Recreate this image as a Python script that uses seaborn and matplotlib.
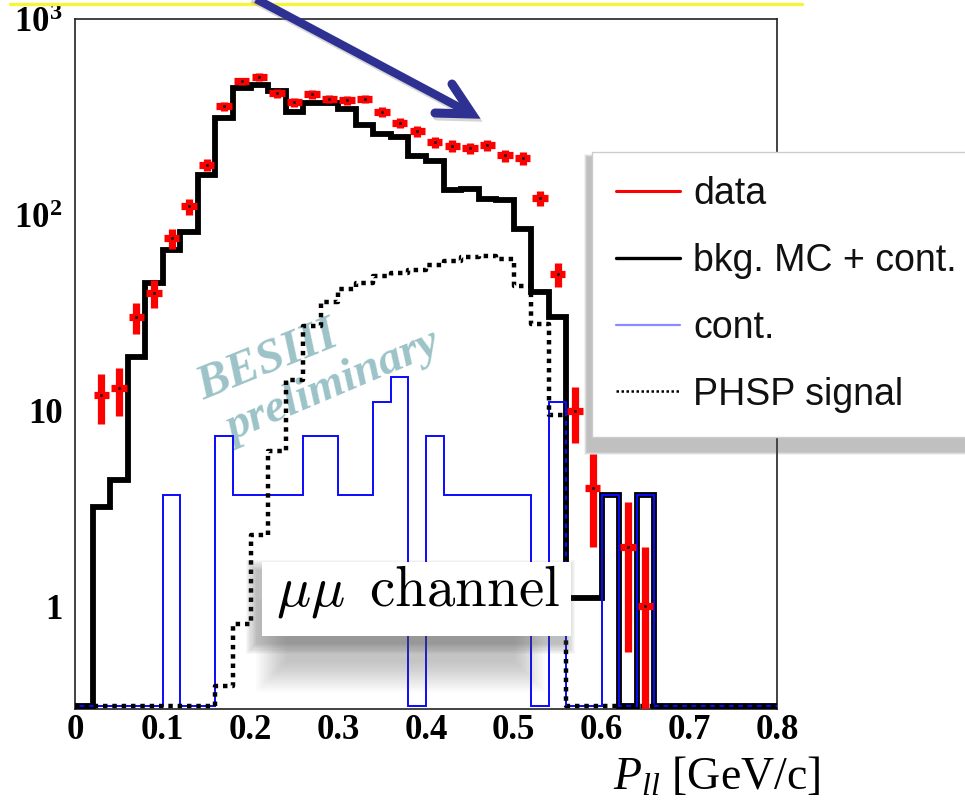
import numpy as np
import pandas as pd
import matplotlib
matplotlib.use("Agg")
import matplotlib.pyplot as plt
import seaborn as sns
from matplotlib.lines import Line2D
from matplotlib.patches import Rectangle
from matplotlib.ticker import MultipleLocator, LogLocator, NullFormatter

# ---------------- data ----------------
bin_edges = np.round(np.linspace(0.0, 0.8, 41), 3)

data_counts = [0, 12, 13, 30, 40, 76, 111, 181, 361, 483,
               508, 419, 378, 414, 393, 386, 393, 337, 296, 268,
               236, 226, 219, 227, 202, 195, 122, 50, 10, 4,
               0, 2, 1, 0, 0, 0, 0, 0, 0, 0]
bkg_mc_cont = [0, 3.2, 4.4, 18.7, 45, 66, 82, 160, 315, 445,
               462, 430, 336, 372, 372, 348, 288, 261, 250, 200,
               189, 134, 136, 121, 119, 85, 40.5, 30, 1.1, 1.1,
               3.7, 0, 3.7, 0, 0, 0, 0, 0, 0, 0]
cont = [0, 0, 0, 0, 0, 3.7, 0, 0, 7.4, 3.7,
        3.7, 3.7, 3.7, 7.4, 7.4, 3.7, 3.7, 11.1, 14.8, 0,
        7.4, 3.7, 3.7, 3.7, 3.7, 3.7, 0, 11.1, 0, 0,
        3.7, 0, 3.7, 0, 0, 0, 0, 0, 0, 0]
phsp_signal = [0, 0, 0, 0, 0, 0, 0, 0, 0.39, 0.81,
               2.3, 6.2, 14.4, 27, 36, 42, 45, 49, 50.6, 52.4,
               55.6, 58, 61.4, 62, 59.7, 43.4, 27.8, 9.5, 0, 0,
               0, 0, 0, 0, 0, 0, 0, 0, 0, 0]

legend_labels = ["data", "bkg. MC + cont.", "cont.", "PHSP signal"]
x_tick_values = [0.0, 0.1, 0.2, 0.3, 0.4, 0.5, 0.6, 0.7, 0.8]
x_tick_labels = ["0", "0.1", "0.2", "0.3", "0.4", "0.5", "0.6", "0.7", "0.8"]
y_tick_values = [1, 10, 100, 1000]
y_tick_labels = ["1", "10", r"$\mathbf{10^{2}}$", r"$\mathbf{10^{3}}$"]
x_label = r"$P_{ll}$ [GeV/c]"
channel_text = r"$\mu\mu\ \,\mathrm{channel}$"
watermark = ["BESIII", "preliminary"]

# ---------------- style ----------------
sns.set_style("white")
plt.rcParams["font.family"] = ["Liberation Sans", "DejaVu Sans"]
plt.rcParams["mathtext.fontset"] = "custom"
plt.rcParams["mathtext.rm"] = "Liberation Serif"
plt.rcParams["mathtext.it"] = "Liberation Serif:italic"
plt.rcParams["mathtext.bf"] = "Liberation Serif:bold"

W, H = 965, 805
fig = plt.figure(figsize=(W / 100, H / 100), dpi=100)
fig.patch.set_facecolor("white")


def fx(x):
    return x / W


def fy(y):
    return 1 - y / H


ax = fig.add_axes([fx(75), fy(708.5), (777 - 75) / W, (708.5 - 19.5) / H])
ax.set_facecolor("white")

YMIN, YMAX = 0.3, 1000
FLOOR = 0.31  # where empty bins are drawn (just above the frame, like ROOT)


def step_frame(vals):
    v = np.clip(np.asarray(vals, dtype=float), FLOOR, None)
    return pd.DataFrame({"x": bin_edges, "y": np.append(v, v[-1])})


sns.lineplot(data=step_frame(bkg_mc_cont), x="x", y="y", ax=ax,
             drawstyle="steps-post", color="black", linewidth=4.2,
             estimator=None, sort=False, legend=False, zorder=3,
             solid_joinstyle="miter")
sns.lineplot(data=step_frame(cont), x="x", y="y", ax=ax,
             drawstyle="steps-post", color="#0a0aff", linewidth=1.4,
             estimator=None, sort=False, legend=False, zorder=3.2,
             solid_joinstyle="miter")
sns.lineplot(data=step_frame(phsp_signal), x="x", y="y", ax=ax,
             drawstyle="steps-post", color="black", linewidth=3.2,
             linestyle=(0, (1, 1.1)), dash_capstyle="butt",
             estimator=None, sort=False, legend=False, zorder=3.4)

# data points with sqrt(N) errors
d = np.asarray(data_counts, dtype=float)
centers = (bin_edges[:-1] + bin_edges[1:]) / 2
m = d > 0
err = np.sqrt(d[m])
lo = np.minimum(err, d[m] - 0.2)
ax.errorbar(centers[m], d[m], yerr=[lo, err], xerr=0.0088, fmt="s",
            ms=1.1, mfc="#222222", mec="#222222", ecolor="#ff0000",
            elinewidth=5.2, capsize=0, zorder=6)

# ---------------- axes ----------------
ax.set_yscale("log")
ax.set_xlim(0, 0.8)
ax.set_ylim(YMIN, YMAX)
ax.set_xticks(x_tick_values)
ax.set_xticklabels(x_tick_labels, fontfamily="Liberation Serif",
                   fontweight="bold", fontsize=25)
ax.xaxis.set_minor_locator(MultipleLocator(0.02))
ax.set_yticks(y_tick_values)
ax.set_yticklabels(y_tick_labels, fontfamily="Liberation Serif",
                   fontweight="bold", fontsize=25)
ax.yaxis.set_minor_locator(LogLocator(base=10, subs=np.arange(2, 10)))
ax.yaxis.set_minor_formatter(NullFormatter())
ax.tick_params(which="both", direction="in", top=False, right=False,
               color="black", width=1.0, labelcolor="black")
ax.tick_params(axis="x", which="major", length=15, pad=4)
ax.tick_params(axis="x", which="minor", length=8)
ax.tick_params(axis="y", which="major", length=16.5, pad=9)
ax.tick_params(axis="y", which="minor", length=8.5)
for s in ax.spines.values():
    s.set_color("#222222")
    s.set_linewidth(1.2)

ax.set_ylabel("")
ax.set_xlabel(x_label, fontfamily="Liberation Serif", fontsize=33,
              color="black")
ax.xaxis.label.set_ha("right")
ax.xaxis.label.set_va("baseline")
ax.xaxis.set_label_coords((820 - 75) / 702, (708.5 - 790) / 689)

# ---------------- watermark ----------------
ax.text(fx(272), fy(372), watermark[0], transform=fig.transFigure,
        rotation=22, rotation_mode="anchor", ha="center", va="baseline",
        fontfamily="Liberation Serif", fontweight="bold", fontstyle="italic",
        fontsize=35, color="#9cc3c8", zorder=1.5)
ax.text(fx(338), fy(397), watermark[1], transform=fig.transFigure,
        rotation=23, rotation_mode="anchor", ha="center", va="baseline",
        fontfamily="Liberation Serif", fontweight="bold", fontstyle="italic",
        fontsize=34, color="#9cc3c8", zorder=1.5)


# ---------------- soft shadows ----------------
def soft_shadow(x0, y0, x1, y1, dx, dy, spread, n, color, alpha, z):
    for i in range(n):
        g = spread * (1 - i / max(n - 1, 1))
        r = Rectangle((fx(x0 + dx - g), fy(y1 + dy + g)),
                      (x1 - x0 + 2 * g) / W, (y1 - y0 + 2 * g) / H,
                      transform=fig.transFigure, facecolor=color,
                      edgecolor="none", alpha=alpha, clip_on=False, zorder=z)
        ax.add_artist(r)


# channel box
bx0, by0, bx1, by1 = 262, 562, 571, 636
soft_shadow(bx0 + 30, by0 + 40, bx1 - 50, by1, -6, 26, 30, 16, "#555555", 0.022, 8.8)
soft_shadow(bx0, by0, bx1, by1, -6, 8, 10, 10, "#555555", 0.045, 8.9)
ax.add_artist(Rectangle((fx(bx0), fy(by1)), (bx1 - bx0) / W, (by1 - by0) / H,
                        transform=fig.transFigure, facecolor="white",
                        edgecolor="none", clip_on=False, zorder=9))
ax.text(fx(418), fy(605), channel_text, transform=fig.transFigure,
        ha="center", va="baseline", fontsize=41, math_fontfamily="cm",
        color="black", zorder=9.5)

# legend
soft_shadow(592, 152, 1010, 447, -5, 5, 3, 6, "#555555", 0.07, 7.5)
handles = [
    Line2D([], [], color="#ff0000", lw=2.2),
    Line2D([], [], color="black", lw=2.4),
    Line2D([], [], color="#8c8cff", lw=1.6),
    Line2D([], [], color="black", lw=1.8, linestyle=(0, (1, 1))),
]
leg = ax.legend(handles, legend_labels, loc="upper left",
                bbox_to_anchor=(fx(592), fy(152)),
                bbox_transform=fig.transFigure, borderaxespad=0,
                frameon=True, fancybox=False, edgecolor="#cccccc",
                facecolor="white", framealpha=1,
                prop={"family": "Liberation Sans", "size": 27},
                handlelength=1.7, handletextpad=0.35, labelspacing=0.82,
                borderpad=0.65)
leg.get_frame().set_linewidth(1.0)
leg.set_zorder(8)
for t in leg.get_texts():
    t.set_color("#111111")

# ---------------- decorations outside the frame ----------------
fig.add_artist(Line2D([fx(10), fx(802)], [fy(4), fy(4)],
                      transform=fig.transFigure, color="#f5f53a",
                      lw=2.4, zorder=3))
arrow_col = "#2e3192"
tip = (472, 114)
for off, col, al in [((2, 3), "#888888", 0.35), ((0, 0), arrow_col, 1.0)]:
    ox, oy = off
    fig.add_artist(Line2D([fx(243 + ox), fx(tip[0] - 4 + ox)],
                          [fy(-8 + oy), fy(tip[1] - 2 + oy)],
                          transform=fig.transFigure, color=col, alpha=al,
                          lw=6.0, solid_capstyle="butt", zorder=4))
    fig.add_artist(Line2D([fx(435 + ox), fx(tip[0] + ox), fx(452 + ox)],
                          [fy(113 + oy), fy(tip[1] + oy), fy(84 + oy)],
                          transform=fig.transFigure, color=col, alpha=al,
                          lw=6.5, solid_capstyle="round",
                          solid_joinstyle="miter", zorder=4))

fig.savefig("out.png", dpi=100, facecolor="white")
